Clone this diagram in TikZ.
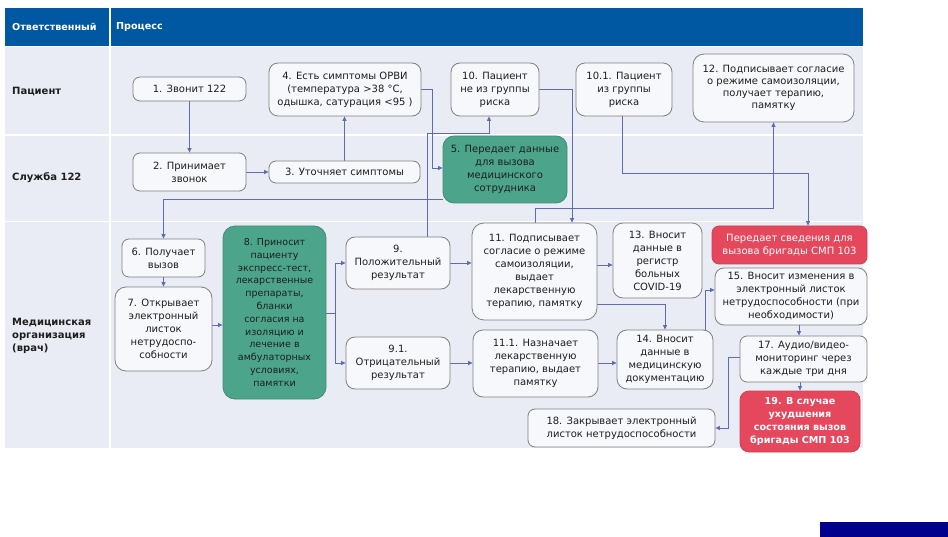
\documentclass[tikz,border=0pt]{standalone}
\usepackage{fontspec}
\setmainfont{DejaVu Sans}
\usetikzlibrary{arrows.meta,calc}
\definecolor{hdrblue}{RGB}{0,88,163}
\definecolor{band}{RGB}{233,236,245}
\definecolor{boxfill}{RGB}{247,248,251}
\definecolor{boxline}{RGB}{128,128,128}
\definecolor{tealg}{RGB}{76,165,138}
\definecolor{redbox}{RGB}{229,72,92}
\definecolor{connc}{RGB}{92,110,175}
\definecolor{txt}{RGB}{30,30,30}
\definecolor{navyc}{RGB}{0,0,140}
\pgfdeclarelayer{bg}
\pgfdeclarelayer{lines}
\pgfsetlayers{bg,lines,main}
\tikzset{
 procbox/.style={draw=boxline, fill=boxfill, line width=0.8pt, rounded corners=7pt, align=center, inner sep=0pt, text=txt, font=\fontsize{10}{13}\selectfont},
 greenbox/.style={procbox, fill=tealg, draw=tealg!85!black},
 redb/.style={procbox, fill=redbox, draw=redbox!90!black, text=white},
 conn/.style={draw=connc, line width=0.8pt, -{Triangle[length=4.5pt,width=4pt]}},
 plainline/.style={draw=connc, line width=0.8pt},
 lbl/.style={anchor=west, align=left, font=\fontsize{10}{13}\selectfont\bfseries, text=txt, inner sep=0pt},
 hdr/.style={anchor=west, font=\fontsize{9.6}{11}\selectfont\bfseries, text=white, inner sep=0pt},
}
\begin{document}
\begin{tikzpicture}[x=1pt,y=-1pt]
\useasboundingbox (0,0) rectangle (948,537);
\begin{pgfonlayer}{bg}
\fill[white] (0,0) rectangle (948,537);
\fill[hdrblue] (5,8) rectangle (863,46);
\fill[band] (5,47) rectangle (863,448);
\draw[white, line width=1.5pt] (5,135) -- (863,135);
\draw[white, line width=1.5pt] (5,221.5) -- (863,221.5);
\draw[white, line width=1.2pt] (110,8) -- (110,448);
\fill[navyc] (820,522) rectangle (948,537);
\end{pgfonlayer}

\node[hdr] (h1) at (12,27) {Ответственный};
\node[hdr] (h2) at (116,27) {Процесс};
\node[lbl] (r1) at (12,92) {Пациент};
\node[lbl] (r2) at (12,178) {Служба 122};
\node[lbl] (r3) at (12,336) {Медицинская\\организация\\(врач)};

\node[procbox, minimum width=113pt, minimum height=24pt] (n1) at (189.5,89) {1. Звонит 122};
\node[procbox, minimum width=113pt, minimum height=38pt] (n2) at (189.5,172) {2. Принимает\\звонок};
\node[procbox, minimum width=151pt, minimum height=22pt] (n3) at (344.5,172) {3. Уточняет симптомы};
\node[procbox, minimum width=152pt, minimum height=53pt, rounded corners=9pt] (n4) at (345,89.5) {4. Есть симптомы ОРВИ\\(температура >38 °C,\\одышка, сатурация <95 )};
\node[procbox, minimum width=88pt, minimum height=53pt, rounded corners=9pt] (n10) at (495,89.5) {10. Пациент\\не из группы\\риска};
\node[greenbox, minimum width=124pt, minimum height=67pt, rounded corners=11pt] (n5) at (505,169.5) {5. Передает данные\\для вызова\\медицинского\\сотрудника};
\node[procbox, minimum width=96pt, minimum height=53pt, rounded corners=9pt] (n101) at (624,89.5) {10.1. Пациент\\из группы\\риска};
\node[procbox, minimum width=161pt, minimum height=68pt, rounded corners=11pt, font=\fontsize{10}{12.2}\selectfont] (n12) at (773.5,88) {12. Подписывает согласие\\о режиме самоизоляции,\\получает терапию,\\памятку};
\node[procbox, minimum width=83pt, minimum height=38pt] (n6) at (163.5,258) {6. Получает\\вызов};
\node[procbox, minimum width=97pt, minimum height=84pt, rounded corners=11pt] (n7) at (163.5,329) {7. Открывает\\электронный\\листок\\нетрудоспо-\\собности};
\node[greenbox, minimum width=103pt, minimum height=173pt, rounded corners=12pt, font=\fontsize{9.5}{12.8}\selectfont] (n8) at (274.5,312.5) {8. Приносит\\пациенту\\экспресс-тест,\\лекарственные\\препараты,\\бланки\\согласия на\\изоляцию и\\лечение в\\амбулаторных\\условиях,\\памятки};
\node[procbox, minimum width=104pt, minimum height=52pt, rounded corners=9pt] (n9) at (398,263) {9.\\Положительный\\результат};
\node[procbox, minimum width=104pt, minimum height=52pt, rounded corners=9pt] (n91) at (398,363) {9.1.\\Отрицательный\\результат};
\node[procbox, minimum width=125pt, minimum height=97pt, rounded corners=12pt] (n11) at (534.5,271.5) {11. Подписывает\\согласие о режиме\\самоизоляции,\\выдает\\лекарственную\\терапию, памятку};
\node[procbox, minimum width=125pt, minimum height=67pt, rounded corners=10pt] (n111) at (535.5,363.5) {11.1. Назначает\\лекарственную\\терапию, выдает\\памятку};
\node[procbox, minimum width=187pt, minimum height=38pt] (n18) at (621.5,428) {18. Закрывает электронный\\листок нетрудоспособности};
\node[procbox, minimum width=89pt, minimum height=75pt, rounded corners=10pt] (n13) at (657.5,260.5) {13. Вносит\\данные в\\регистр\\больных\\COVID-19};
\node[redb, minimum width=155pt, minimum height=38pt] (nred) at (789.5,245) {Передает сведения для\\вызова бригады СМП 103};
\node[procbox, minimum width=152pt, minimum height=57pt, rounded corners=9pt] (n15) at (791,296.5) {15. Вносит изменения в\\электронный листок\\нетрудоспособности (при\\необходимости)};
\node[procbox, minimum width=96pt, minimum height=59pt, rounded corners=10pt] (n14) at (665,359.5) {14. Вносит\\данные в\\медицинскую\\документацию};
\node[procbox, minimum width=127pt, minimum height=46pt] (n17) at (803.5,359) {17. Аудио/видео-\\мониторинг через\\каждые три дня};
\node[redb, minimum width=120pt, minimum height=61pt, rounded corners=9pt, font=\fontsize{9.6}{13}\selectfont\bfseries] (n19) at (800,421.5) {19. В случае\\ухудшения\\состояния вызов\\бригады СМП 103};

\coordinate (fork) at (335,313);

\begin{pgfonlayer}{lines}
\draw[conn] (n1.south) -- (n2.north);
\draw[conn] (n2.east) -- (n3.west);
\draw[conn] (n3.north) -- (n3.north |- n4.south);
\draw[conn] (n4.east) -| (432,168) -- (n5.west |- 0,168);
\draw[conn] (n5.west |- 0,199) -| (n6.north);
\draw[conn] (n6.south) -- (n7.north);
\draw[conn] (n7.east |- 0,325) -- (n8.west |- 0,325);
\draw[plainline] (n8.east |- fork) -- (fork);
\draw[conn] (fork) |- (n9.west);
\draw[conn] (fork) |- (n91.west);
\draw[conn] (n9.north -| 427,0) -- (427,133) -| (n10.south -| 489,0);
\draw[conn] (n9.east) -- (n11.west |- n9.east);
\draw[conn] (n91.east) -- (n111.west |- n91.east);
\draw[conn] (n10.east) -| (n11.north -| 572,0);
\draw[conn] (n11.north -| 535,0) -- (535,208) -| (n12.south);
\draw[conn] (n101.south -| 622,0) -- (622,173) -| (nred.north -| 808,0);
\draw[conn] (n11.east |- 0,265) -- (n13.west |- 0,265);
\draw[conn] (n11.east |- 0,304) -| (n14.north);
\draw[conn] (n111.east |- 0,363) -- (n14.west |- 0,363);
\draw[conn] (n14.north -| 705,0) -- (705,290) -- (n15.west |- 0,290);
\draw[conn] (n15.south -| 799,0) -- (n17.north -| 799,0);
\draw[conn] (n17.south -| 800,0) -- (n19.north -| 800,0);
\draw[conn] (n17.west |- 0,357) -- (728,357) |- (n18.east);
\end{pgfonlayer}
\end{tikzpicture}
\end{document}
